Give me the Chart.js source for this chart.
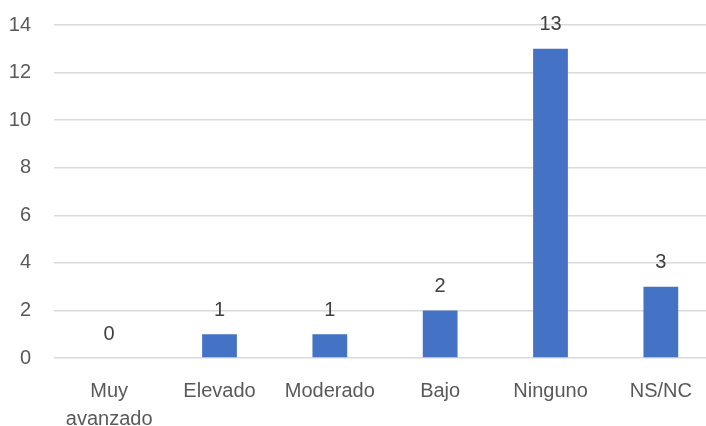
<!DOCTYPE html>
<html>
<head>
<meta charset="utf-8">
<script src="https://cdn.jsdelivr.net/npm/chart.js@4"></script>
<style>
  html, body { margin: 0; padding: 0; background: #fff; overflow: hidden; }
  #wrap { width: 716px; height: 426px; }
</style>
</head>
<body>
<div id="wrap"><canvas id="chart1"></canvas></div>
<script>
var categories = [['Muy', 'avanzado'], 'Elevado', 'Moderado', 'Bajo', 'Ninguno', 'NS/NC'];
var counts = [0, 1, 1, 2, 13, 3];
var yTicks = [0, 2, 4, 6, 8, 10, 12, 14];

var FONT = "'Liberation Sans', 'DejaVu Sans', sans-serif";

// value labels above each bar
var barLabels = {
    id: 'barLabels',
    afterDatasetsDraw: function(chart) {
        var ctx = chart.ctx;
        var meta = chart.getDatasetMeta(0);
        ctx.save();
        ctx.font = '20px ' + FONT;
        ctx.fillStyle = '#404040';
        ctx.textAlign = 'center';
        ctx.textBaseline = 'middle';
        meta.data.forEach(function(bar, i) {
            ctx.fillText(String(counts[i]), bar.x, bar.y - 24);
        });
        ctx.restore();
    }
};

var ctx = document.getElementById('chart1').getContext('2d');
var chart = new Chart(ctx, {
    type: 'bar',
    data: {
        labels: categories,
        datasets: [{
            data: counts,
            backgroundColor: '#4472C4',
            categoryPercentage: 1,
            barPercentage: 0.315
        }]
    },
    options: {
        responsive: true,
        maintainAspectRatio: false,
        animation: false,
        // plot area runs from y=25 down to y=358
        layout: { padding: { top: 25, right: 0, left: 0, bottom: 0 } },
        plugins: {
            legend: { display: false },
            tooltip: { enabled: false }
        },
        scales: {
            x: {
                grid: { display: false },
                border: { display: false },
                ticks: {
                    color: '#595959',
                    font: { family: FONT, size: 20, lineHeight: 1.4 },
                    padding: 11,
                    maxRotation: 0,
                    autoSkip: false
                },
                afterFit: function(scale) { scale.height = 68; }
            },
            y: {
                min: 0,
                max: 14,
                afterBuildTicks: function(scale) {
                    scale.ticks = yTicks.map(function(v) { return { value: v }; });
                },
                grid: { color: '#D9D9D9', lineWidth: 1.5, drawTicks: false },
                border: { display: false },
                ticks: {
                    color: '#595959',
                    font: { family: FONT, size: 20 },
                    padding: 23
                },
                afterFit: function(scale) {
                    scale.width = 54;
                    scale.paddingTop = 0;
                }
            }
        }
    },
    plugins: [barLabels]
});
</script>
</body>
</html>
